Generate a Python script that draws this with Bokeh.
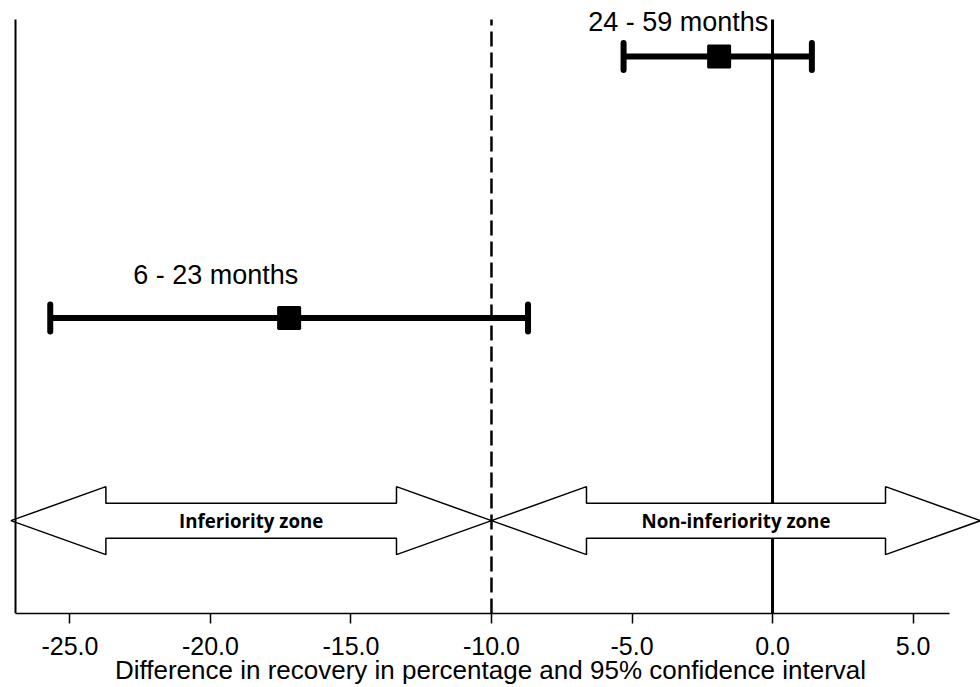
import math
from bokeh.plotting import figure
from bokeh.models import Range1d, FixedTicker, NumeralTickFormatter, ColumnDataSource
from bokeh.core.properties import value
from bokeh.embed import file_html
from bokeh.resources import INLINE

# ---- data ----
groups = ["6 - 23 months", "24 - 59 months"]
estimate = [-17.2, -1.9]
ci_lower = [-25.7, -5.3]
ci_upper = [-8.7, 1.4]
row = [1, 2]

margin_value = -10.0
reference_value = 0.0

zone_names = ["Inferiority zone", "Non-inferiority zone"]
zone_start = [-27.1, -10.0]
zone_end = [-10.0, 7.4]

x_ticks = [-25, -20, -15, -10, -5, 0, 5]
x_title = "Difference in recovery in percentage and 95% confidence interval"

# ---- layout / style constants ----
X_LO, X_HI = -27.47, 7.40
Y_LO, Y_HI = -0.13, 2.214
AXIS_LEFT = -26.94
AXIS_RIGHT = 6.3
AXIS_TOP = 2.141
ARROW_Y = 0.225
HEAD_LEN = 3.38
HEAD_HALF = 0.13
SHAFT_HALF = 0.067
label_dx = [-156, -131]
label_dy = [-43, -34]

p = figure(width=980, height=687, x_range=Range1d(X_LO, X_HI), y_range=Range1d(Y_LO, Y_HI),
           output_backend="svg", toolbar_location=None,
           min_border_left=0, min_border_right=0, min_border_top=0, min_border_bottom=73)
p.outline_line_color = None
p.grid.visible = False
p.background_fill_color = "white"
p.border_fill_color = "white"

# x axis
xa = p.xaxis[0]
xa.ticker = FixedTicker(ticks=x_ticks)
xa.formatter = NumeralTickFormatter(format="0.0")
xa.bounds = (AXIS_LEFT, AXIS_RIGHT)
xa.axis_line_width = 1.5
xa.axis_line_color = "black"
xa.major_tick_line_color = "black"
xa.major_tick_line_width = 1.5
xa.major_tick_out = 10
xa.major_tick_in = 0
xa.minor_tick_out = 0
xa.minor_tick_in = 0
xa.major_label_text_font = "Liberation Sans"
xa.major_label_text_font_size = "25px"
xa.major_label_text_color = "black"
xa.major_label_standoff = 13
xa.axis_label = x_title
xa.axis_label_text_font = "Liberation Sans"
xa.axis_label_text_font_size = "26px"
xa.axis_label_text_font_style = "normal"
xa.axis_label_text_color = "black"
xa.axis_label_standoff = -3

# y axis (line only)
ya = p.yaxis[0]
ya.fixed_location = AXIS_LEFT
ya.bounds = (Y_LO, AXIS_TOP)
ya.ticker = FixedTicker(ticks=[])
ya.axis_line_width = 2
ya.axis_line_color = "black"
ya.major_tick_out = 0
ya.major_tick_in = 0
ya.minor_tick_out = 0
ya.minor_tick_in = 0
ya.major_label_text_font_size = "0px"

# vertical reference lines
p.segment(x0=[margin_value], y0=[Y_LO], x1=[margin_value], y1=[AXIS_TOP],
          line_color="black", line_width=2.5, line_dash="15 6")
p.segment(x0=[reference_value], y0=[Y_LO], x1=[reference_value], y1=[AXIS_TOP],
          line_color="black", line_width=3)

# zone arrows
xs, ys, cx = [], [], []
for s, e in zip(zone_start, zone_end):
    xs.append([s, s + HEAD_LEN, s + HEAD_LEN, e - HEAD_LEN, e - HEAD_LEN, e,
               e - HEAD_LEN, e - HEAD_LEN, s + HEAD_LEN, s + HEAD_LEN])
    ys.append([ARROW_Y, ARROW_Y + HEAD_HALF, ARROW_Y + SHAFT_HALF, ARROW_Y + SHAFT_HALF,
               ARROW_Y + HEAD_HALF, ARROW_Y, ARROW_Y - HEAD_HALF, ARROW_Y - SHAFT_HALF,
               ARROW_Y - SHAFT_HALF, ARROW_Y - HEAD_HALF])
    cx.append((s + e) / 2)
p.patches(xs=xs, ys=ys, fill_color="white", line_color="black", line_width=1.5)
p.text(x=cx, y=[ARROW_Y] * len(cx), text=zone_names, text_align="center", text_baseline="middle",
       text_font=value("Open Sans"), text_font_size="18.7px", text_font_style="bold", text_color="black")

# estimates with CI
src = ColumnDataSource(dict(group=groups, est=estimate, lo=ci_lower, hi=ci_upper, row=row,
                            dx=label_dx, dy=label_dy))
p.segment(x0="lo", y0="row", x1="hi", y1="row", source=src, line_color="black", line_width=6)
p.scatter(x="lo", y="row", source=src, marker="dash", angle=math.pi / 2, size=27,
          line_color="black", line_width=6, line_cap="round")
p.scatter(x="hi", y="row", source=src, marker="dash", angle=math.pi / 2, size=27,
          line_color="black", line_width=6, line_cap="round")
p.scatter(x="est", y="row", source=src, marker="square", size=22,
          fill_color="black", line_color="black", line_width=2)
p.text(x="est", y="row", text="group", source=src, x_offset="dx", y_offset="dy",
       text_align="left", text_baseline="alphabetic",
       text_font=value("Liberation Sans"), text_font_size="27px", text_color="black")

open("out.html", "w").write(file_html(p, INLINE))
